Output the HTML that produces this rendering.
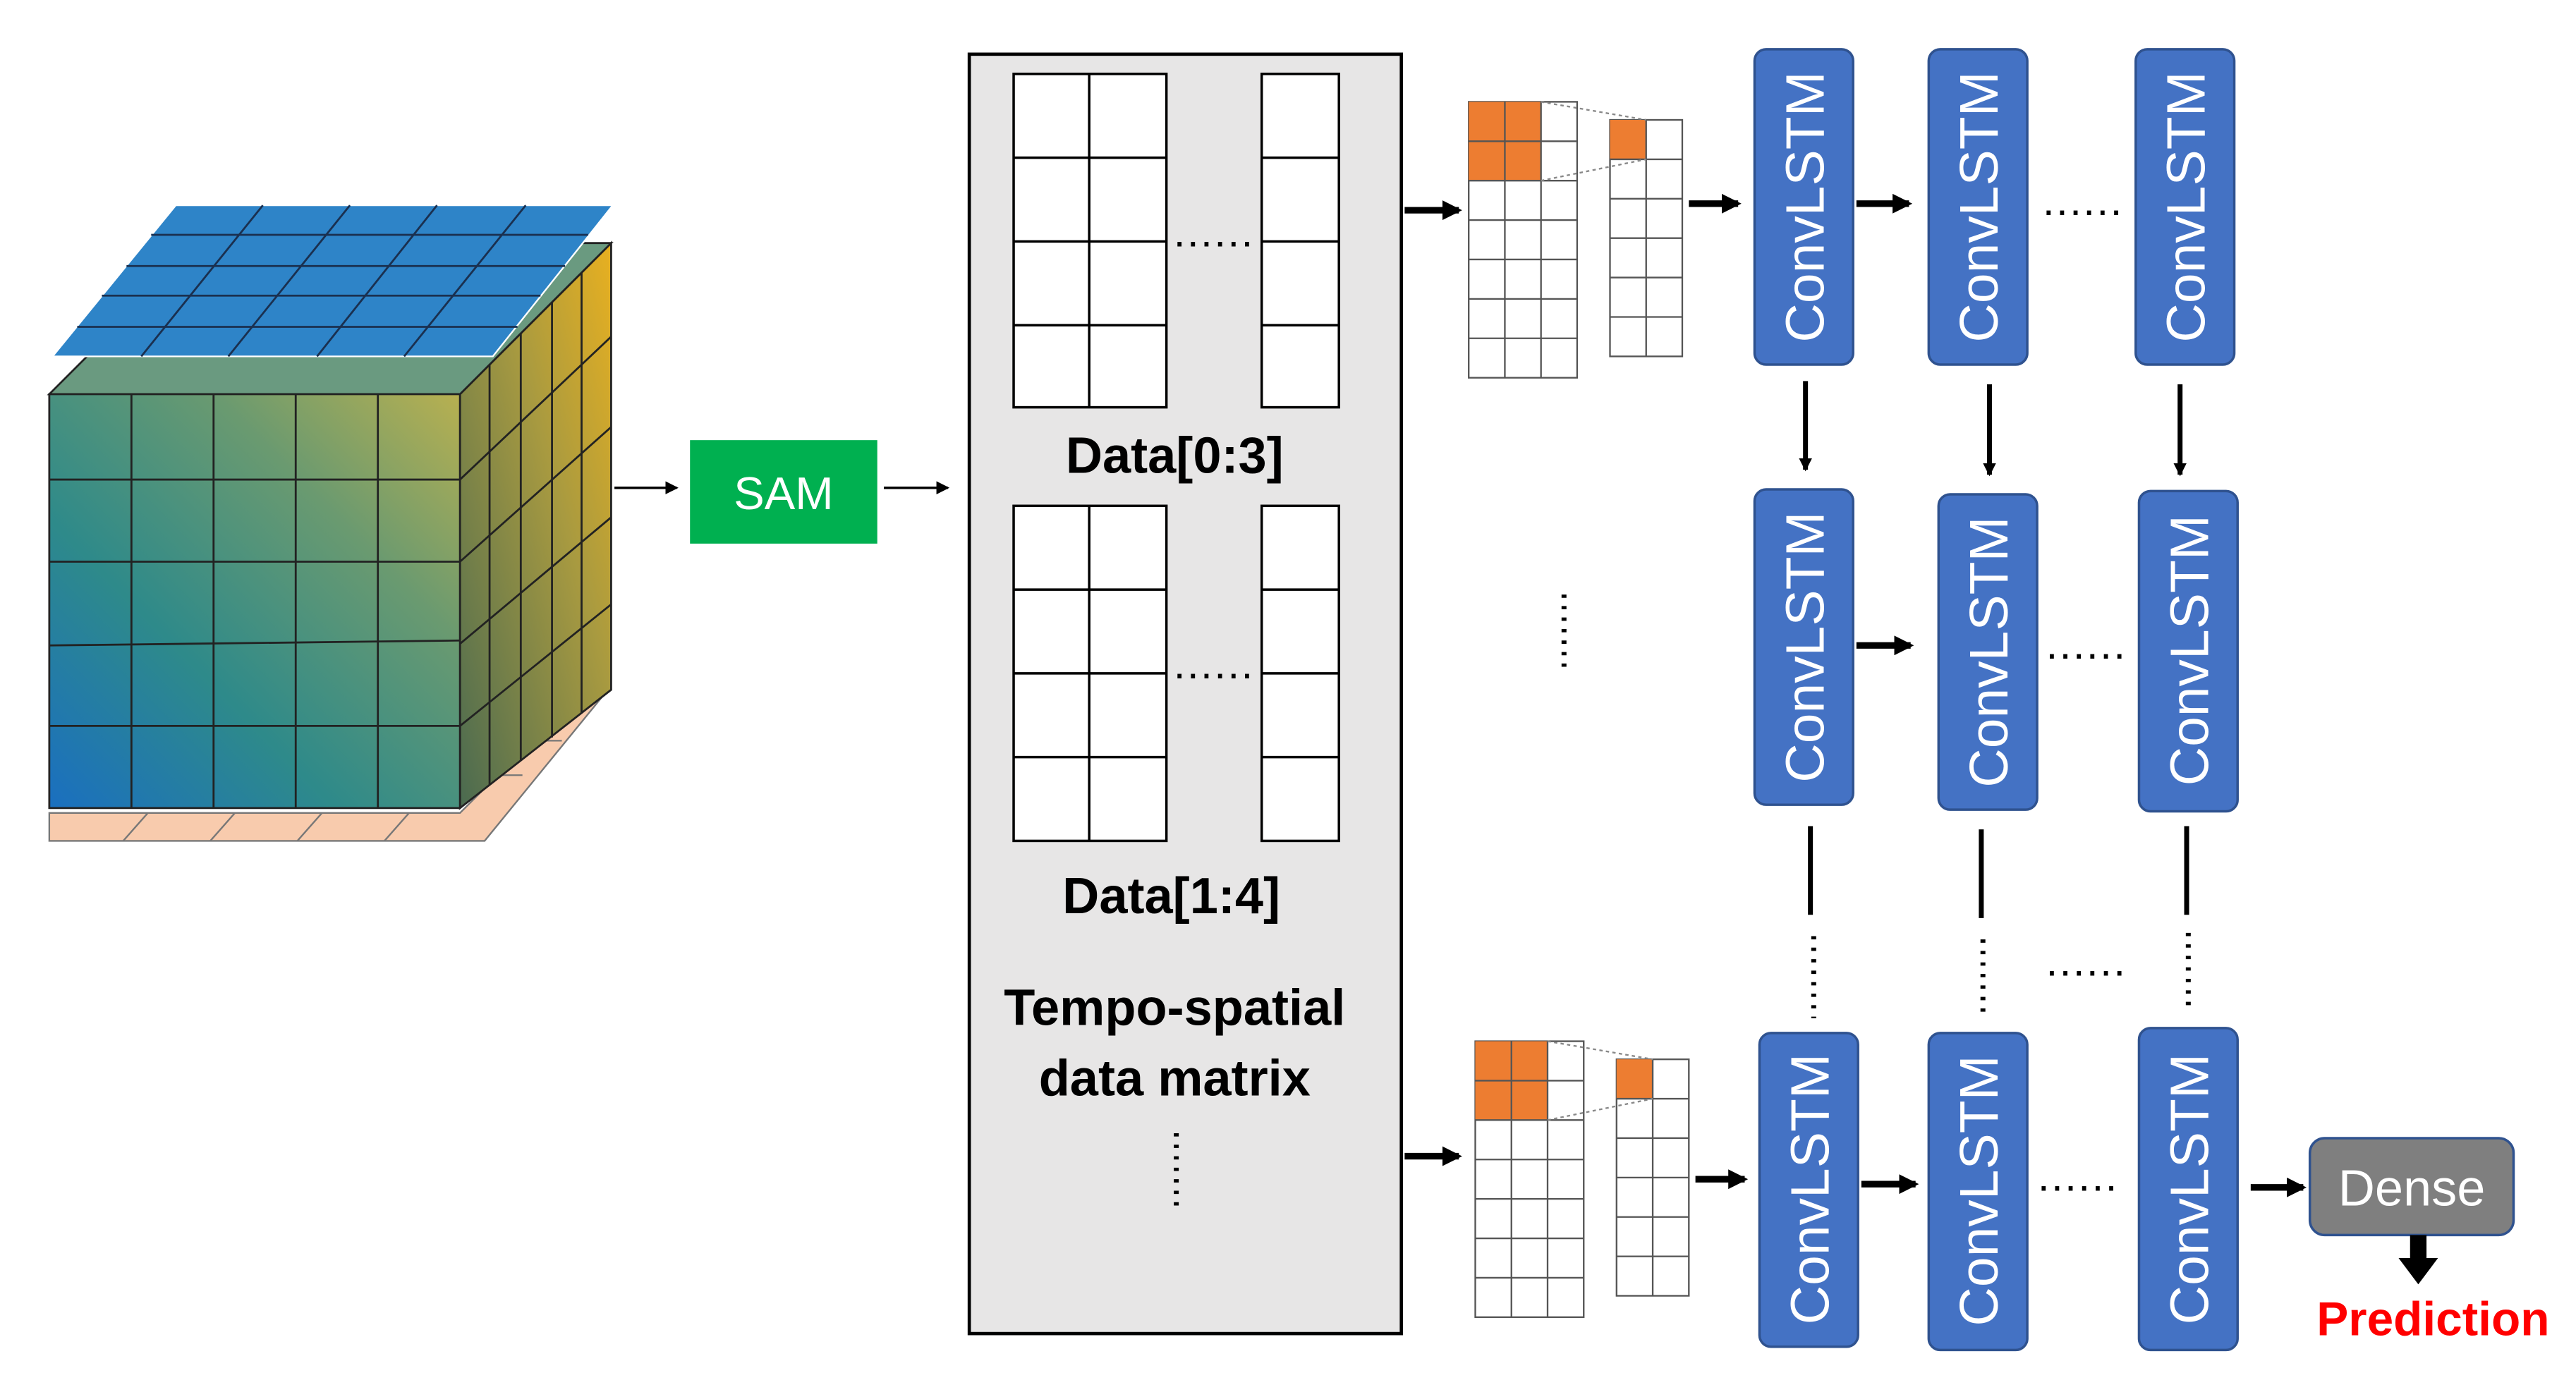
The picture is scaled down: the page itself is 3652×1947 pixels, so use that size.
<!DOCTYPE html>
<html><head><meta charset="utf-8"><style>
html,body{margin:0;padding:0;background:#fff;}
svg{display:block;}
</style></head><body>
<svg width="3652" height="1947" viewBox="0 0 1568 836" preserveAspectRatio="none" xmlns="http://www.w3.org/2000/svg" font-family="Liberation Sans, sans-serif">
<defs>
<linearGradient id="fg" x1="0" y1="1" x2="1" y2="0">
<stop offset="0" stop-color="#1a6fc0"/><stop offset="0.35" stop-color="#2e8a8a"/><stop offset="0.7" stop-color="#6a9a70"/><stop offset="1" stop-color="#b8b050"/>
</linearGradient>
<linearGradient id="sg" x1="0" y1="1" x2="1" y2="0">
<stop offset="0" stop-color="#4a6a50"/><stop offset="0.6" stop-color="#a89a40"/><stop offset="1" stop-color="#e8b020"/>
</linearGradient>
<marker id="a" markerWidth="8" markerHeight="8" refX="7" refY="4" orient="auto" markerUnits="userSpaceOnUse"><path d="M0,0 L8,4 L0,8z" fill="#000"/></marker>
<marker id="b" markerWidth="12" markerHeight="12" refX="10" refY="6" orient="auto" markerUnits="userSpaceOnUse"><path d="M0,0 L12,6 L0,12z" fill="#000"/></marker>
</defs>

<polygon points="30,512 295,512 370,420 355,420 280,495 30,495" fill="#f8cbad" stroke="#777" stroke-width="1"/>
<g stroke="#777" stroke-width="1">
<line x1="75" y1="512" x2="90" y2="495"/><line x1="128" y1="512" x2="143" y2="495"/><line x1="181" y1="512" x2="196" y2="495"/><line x1="234" y1="512" x2="249" y2="495"/>
<line x1="303" y1="472" x2="318" y2="472"/><line x1="325" y1="451" x2="342" y2="451"/>
</g>
<polygon points="280,240 372,148 372,420 280,492" fill="url(#sg)" stroke="#222" stroke-width="1.2"/>
<g stroke="#222" stroke-width="1.2" fill="none">
<line x1="298" y1="222" x2="298" y2="478"/><line x1="317" y1="203" x2="317" y2="463"/><line x1="336" y1="184" x2="336" y2="449"/><line x1="354" y1="166" x2="354" y2="434"/>
<line x1="280" y1="292" x2="372" y2="205"/><line x1="280" y1="342" x2="372" y2="260"/><line x1="280" y1="392" x2="372" y2="315"/><line x1="280" y1="442" x2="372" y2="368"/>
</g>
<polygon points="30,240 280,240 372,148 122,148" fill="#6a9a80" stroke="#222" stroke-width="1.2"/>
<rect x="30" y="240" width="250" height="252" fill="url(#fg)" stroke="#222" stroke-width="1.2"/>
<g stroke="#222" stroke-width="1.2">
<line x1="80" y1="240" x2="80" y2="492"/><line x1="130" y1="240" x2="130" y2="492"/><line x1="180" y1="240" x2="180" y2="492"/><line x1="230" y1="240" x2="230" y2="492"/>
<line x1="30" y1="292" x2="280" y2="292"/><line x1="30" y1="342" x2="280" y2="342"/><line x1="30" y1="393" x2="280" y2="390"/><line x1="30" y1="442" x2="280" y2="442"/>
</g>
<polygon points="32,217 300,217 373,125 107,125" fill="#2e84c8" stroke="#fff" stroke-width="1"/>
<g stroke="#1a3050" stroke-width="1.2">
<line x1="86" y1="217" x2="160" y2="125"/><line x1="139" y1="217" x2="213" y2="125"/><line x1="193" y1="217" x2="266" y2="125"/><line x1="246" y1="217" x2="320" y2="125"/>
<line x1="47" y1="199" x2="315" y2="199"/><line x1="62" y1="180" x2="329" y2="180"/><line x1="77" y1="162" x2="344" y2="162"/><line x1="92" y1="143" x2="358" y2="143"/>
</g>

<line x1="374" y1="297" x2="412" y2="297" stroke="#000" stroke-width="1.5" marker-end="url(#a)"/>
<rect x="420" y="268" width="114" height="63" fill="#00b050"/>
<text x="477" y="310" font-size="28" fill="#fff" text-anchor="middle">SAM</text>
<line x1="538" y1="297" x2="577" y2="297" stroke="#000" stroke-width="1.5" marker-end="url(#a)"/>

<rect x="590" y="33" width="263" height="779" fill="#e7e6e6" stroke="#000" stroke-width="2"/>
<g fill="#fff" stroke="#000" stroke-width="1.5">
<rect x="617" y="45" width="93" height="203"/><rect x="768" y="45" width="47" height="203"/>
<rect x="617" y="308" width="93" height="204"/><rect x="768" y="308" width="47" height="204"/>
</g>
<g stroke="#000" stroke-width="1.5">
<line x1="663" y1="45" x2="663" y2="248"/><line x1="617" y1="96" x2="710" y2="96"/><line x1="617" y1="147" x2="710" y2="147"/><line x1="617" y1="198" x2="710" y2="198"/>
<line x1="768" y1="96" x2="815" y2="96"/><line x1="768" y1="147" x2="815" y2="147"/><line x1="768" y1="198" x2="815" y2="198"/>
<line x1="663" y1="308" x2="663" y2="512"/><line x1="617" y1="359" x2="710" y2="359"/><line x1="617" y1="410" x2="710" y2="410"/><line x1="617" y1="461" x2="710" y2="461"/>
<line x1="768" y1="359" x2="815" y2="359"/><line x1="768" y1="410" x2="815" y2="410"/><line x1="768" y1="461" x2="815" y2="461"/>
</g>
<g font-size="26" text-anchor="middle" letter-spacing="1">
<text x="739" y="150">......</text>
<text x="739" y="413">......</text>
</g>
<text x="715" y="288" font-size="31" font-weight="bold" text-anchor="middle">Data[0:3]</text>
<text x="713" y="556" font-size="31" font-weight="bold" text-anchor="middle">Data[1:4]</text>
<text x="715" y="624" font-size="31" font-weight="bold" text-anchor="middle">Tempo-spatial</text>
<text x="715" y="667" font-size="31" font-weight="bold" text-anchor="middle">data matrix</text>
<line x1="716" y1="690" x2="716" y2="737" stroke="#000" stroke-width="3" stroke-dasharray="2,5"/>

<line x1="855" y1="128" x2="888" y2="128" stroke="#000" stroke-width="4" marker-end="url(#b)"/>
<line x1="855" y1="704" x2="888" y2="704" stroke="#000" stroke-width="4" marker-end="url(#b)"/>

<g id="sg1">
<rect x="894" y="62" width="66" height="168" fill="#fff" stroke="#555"/>
<rect x="894" y="62" width="44" height="48" fill="#ed7d31"/>
<g stroke="#555" stroke-width="1">
<line x1="916" y1="62" x2="916" y2="230"/><line x1="938" y1="62" x2="938" y2="230"/>
<line x1="894" y1="86" x2="960" y2="86"/><line x1="894" y1="110" x2="960" y2="110"/><line x1="894" y1="134" x2="960" y2="134"/><line x1="894" y1="158" x2="960" y2="158"/><line x1="894" y1="182" x2="960" y2="182"/><line x1="894" y1="206" x2="960" y2="206"/>
</g>
<rect x="980" y="73" width="44" height="144" fill="#fff" stroke="#555"/>
<rect x="980" y="73" width="22" height="24" fill="#ed7d31"/>
<g stroke="#555" stroke-width="1">
<line x1="1002" y1="73" x2="1002" y2="217"/>
<line x1="980" y1="97" x2="1024" y2="97"/><line x1="980" y1="121" x2="1024" y2="121"/><line x1="980" y1="145" x2="1024" y2="145"/><line x1="980" y1="169" x2="1024" y2="169"/><line x1="980" y1="193" x2="1024" y2="193"/>
</g>
<g stroke="#888" stroke-dasharray="2,2"><line x1="938" y1="62" x2="1002" y2="73"/><line x1="938" y1="110" x2="1002" y2="97"/></g>
</g>
<use href="#sg1" transform="translate(4,572)"/>
<line x1="1028" y1="124" x2="1058" y2="124" stroke="#000" stroke-width="4" marker-end="url(#b)"/>
<line x1="1032" y1="718" x2="1062" y2="718" stroke="#000" stroke-width="4" marker-end="url(#b)"/>
<line x1="952" y1="362" x2="952" y2="410" stroke="#000" stroke-width="3" stroke-dasharray="2,5"/>

<g fill="#4472c4" stroke="#2f528f" stroke-width="1.5">
<rect x="1068" y="30" width="60" height="192" rx="7"/><rect x="1174" y="30" width="60" height="192" rx="7"/><rect x="1300" y="30" width="60" height="192" rx="7"/>
<rect x="1068" y="298" width="60" height="192" rx="7"/><rect x="1180" y="301" width="60" height="192" rx="7"/><rect x="1302" y="299" width="60" height="195" rx="7"/>
<rect x="1071" y="629" width="60" height="191" rx="7"/><rect x="1174" y="629" width="60" height="193" rx="7"/><rect x="1302" y="626" width="60" height="196" rx="7"/>
</g>
<g fill="#fff" font-size="33" text-anchor="middle">
<text transform="translate(1110,126) rotate(-90)">ConvLSTM</text>
<text transform="translate(1216,126) rotate(-90)">ConvLSTM</text>
<text transform="translate(1342,126) rotate(-90)">ConvLSTM</text>
<text transform="translate(1110,394) rotate(-90)">ConvLSTM</text>
<text transform="translate(1222,397) rotate(-90)">ConvLSTM</text>
<text transform="translate(1344,396) rotate(-90)">ConvLSTM</text>
<text transform="translate(1113,724) rotate(-90)">ConvLSTM</text>
<text transform="translate(1216,725) rotate(-90)">ConvLSTM</text>
<text transform="translate(1344,724) rotate(-90)">ConvLSTM</text>
</g>
<g stroke="#000" stroke-width="4">
<line x1="1130" y1="124" x2="1162" y2="124" marker-end="url(#b)"/>
<line x1="1130" y1="393" x2="1163" y2="393" marker-end="url(#b)"/>
<line x1="1133" y1="721" x2="1166" y2="721" marker-end="url(#b)"/>
<line x1="1370" y1="723" x2="1402" y2="723" marker-end="url(#b)"/>
</g>
<g stroke="#000" stroke-width="3">
<line x1="1099" y1="232" x2="1099" y2="286" marker-end="url(#a)"/>
<line x1="1211" y1="234" x2="1211" y2="289" marker-end="url(#a)"/>
<line x1="1327" y1="234" x2="1327" y2="289" marker-end="url(#a)"/>
<line x1="1102" y1="503" x2="1102" y2="557"/><line x1="1206" y1="505" x2="1206" y2="559"/><line x1="1331" y1="503" x2="1331" y2="557"/>
</g>
<g stroke="#000" stroke-width="3" stroke-dasharray="2,5">
<line x1="1104" y1="570" x2="1104" y2="620"/><line x1="1207" y1="572" x2="1207" y2="620"/><line x1="1332" y1="568" x2="1332" y2="616"/>
</g>
<g font-size="26" text-anchor="middle" letter-spacing="1">
<text x="1268" y="131">......</text><text x="1270" y="401">......</text><text x="1270" y="594">......</text><text x="1265" y="725">......</text>
</g>

<rect x="1406" y="693" width="124" height="59" rx="9" fill="#7f7f7f" stroke="#2f528f" stroke-width="1.5"/>
<text x="1468" y="734" font-size="31" fill="#fff" text-anchor="middle">Dense</text>
<rect x="1467" y="752" width="10" height="15" fill="#000"/>
<polygon points="1460,766 1484,766 1472,782" fill="#000"/>
<text x="1481" y="813" font-size="29" font-weight="bold" fill="#ff0000" text-anchor="middle">Prediction</text>
</svg>
</body></html>
